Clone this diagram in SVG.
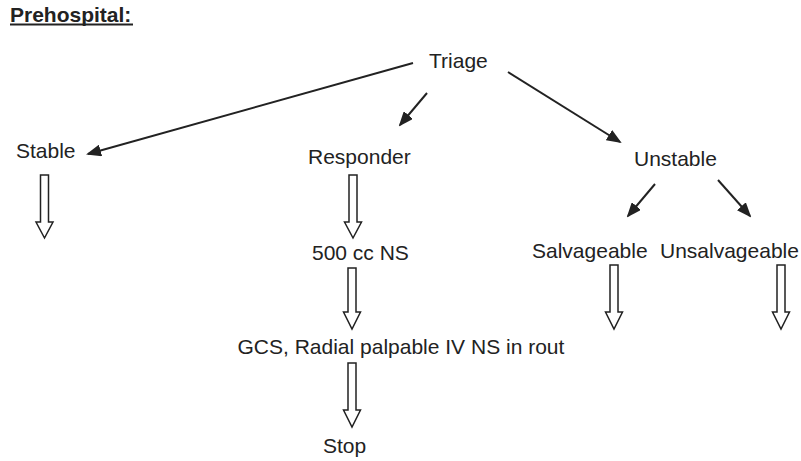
<svg xmlns="http://www.w3.org/2000/svg" width="801" height="461" viewBox="0 0 801 461">
  <style>
    text { font-family: "Liberation Sans", Arial, Helvetica, sans-serif; font-size: 21px; fill: #222; }
    .title { font-weight: bold; }
    .rule { stroke: #222; stroke-width: 2.2; }
    .link { stroke: #222; stroke-width: 2; fill: none; }
    .block { fill: #fff; stroke: #222; stroke-width: 1.5; stroke-linejoin: miter; }
  </style>
  <defs>
    <marker id="head" markerUnits="userSpaceOnUse" markerWidth="15" markerHeight="12" refX="13" refY="6" orient="auto">
      <path d="M0,0 L15,6 L0,12 z" fill="#222"/>
    </marker>
  </defs>

  <rect width="801" height="461" fill="#fff"/>

  <!-- heading with a heavy underline -->
  <g id="title">
    <text class="title" x="10" y="22">Prehospital:</text>
    <line class="rule" x1="10" y1="24.5" x2="133" y2="24.5"/>
  </g>

  <g id="triage"><text x="429" y="68">Triage</text></g>
  <g id="stable"><text x="16" y="158">Stable</text></g>
  <g id="responder"><text x="308" y="164">Responder</text></g>
  <g id="unstable"><text x="634" y="166">Unstable</text></g>
  <g id="ns500"><text x="312" y="260">500 cc NS</text></g>
  <g id="salvageable"><text x="532" y="258">Salvageable</text></g>
  <g id="unsalvageable"><text x="660" y="258">Unsalvageable</text></g>
  <g id="gcs"><text x="237.5" y="354">GCS, Radial palpable IV NS in rout</text></g>
  <g id="stop"><text x="323" y="453">Stop</text></g>

  <g id="connectors">
    <!-- solid arrows with filled heads -->
    <line class="link" x1="413" y1="63" x2="88" y2="154" marker-end="url(#head)"/>
    <line class="link" x1="427" y1="93" x2="400" y2="125" marker-end="url(#head)"/>
    <line class="link" x1="508" y1="72" x2="620" y2="142" marker-end="url(#head)"/>
    <line class="link" x1="655" y1="184" x2="628" y2="216" marker-end="url(#head)"/>
    <line class="link" x1="718" y1="180" x2="750" y2="216" marker-end="url(#head)"/>

    <!-- hollow block arrows -->
    <path class="block" d="M40.5,175 H48.5 V222 H53 L44.5,238 L36,222 H40.5 Z"/>
    <path class="block" d="M349,175 H357 V222 H361.5 L353,238 L344.5,222 H349 Z"/>
    <path class="block" d="M348,268 H356 V312 H360.5 L352,329 L343.5,312 H348 Z"/>
    <path class="block" d="M348,363 H356 V410 H360.5 L352,427 L343.5,410 H348 Z"/>
    <path class="block" d="M610,265 H618 V312 H622.5 L614,329 L605.5,312 H610 Z"/>
    <path class="block" d="M777,265 H785 V312 H789.5 L781,329 L772.5,312 H777 Z"/>
  </g>
</svg>
